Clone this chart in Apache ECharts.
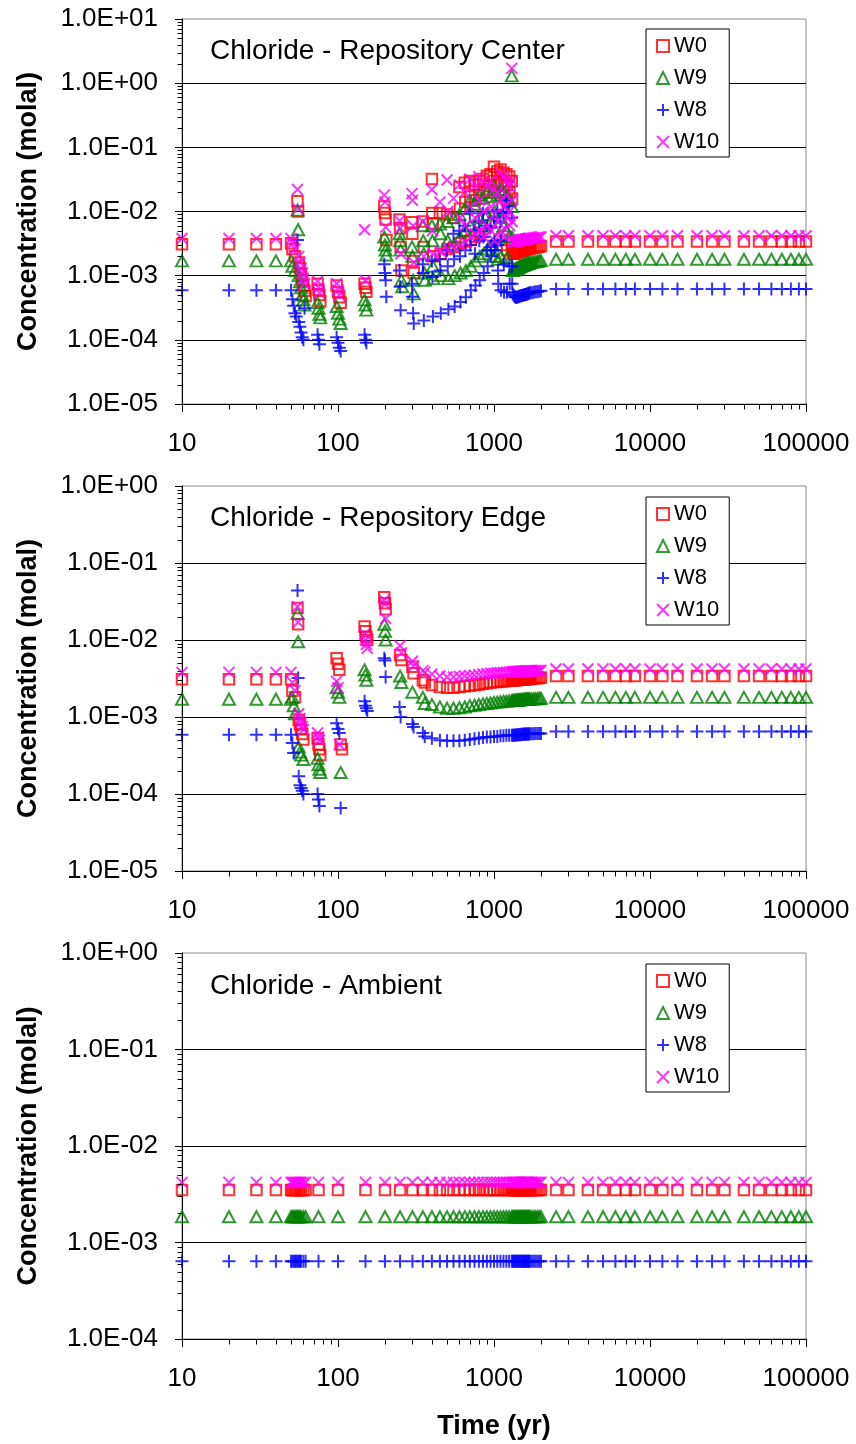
<!DOCTYPE html>
<html><head><meta charset="utf-8">
<script src="https://cdn.jsdelivr.net/npm/echarts@6/dist/echarts.min.js"></script>
<style>html,body{margin:0;padding:0;background:#fff}#chart{width:856px;height:1444px}</style>
</head><body><div id="chart"></div>
<script>
// ---------------- DATA ----------------
const seriesNames = ['W0', 'W9', 'W8', 'W10'];
const panelTitles = ['Chloride - Repository Center', 'Chloride - Repository Edge', 'Chloride - Ambient'];
const xTickValues = [10, 100, 1000, 10000, 100000];
const minorTickMultipliers = [2, 3, 4, 5, 6, 7, 8, 9];

const earlyTimes = [10, 20, 30, 40, 50];
const midTimes = [400,450,500,550,600,650,700,750,800,850,900,950,1000,1050,1100,1150,1200,1250,1300];
const rampTimes = [1320,1340,1360,1380,1400,1420,1440,1460,1480,1500,1520,1540,1560,1580,1600,1620,1640,1660,1680,1700,1750,1800,1850,1900,1950,2000];
const tailTimes = [2500,3000,4000,5000,6000,7000,8000,10000,12000,15000,20000,25000,30000,40000,50000,60000,70000,80000,90000,100000];
const ambientEarlyTimes = [10,20,30,40,50,51,52,53,54,55,56,57,58,60,62,75,100,150,200,250,300,350];

// ----- Repository Center -----
const centerW0Early = [3.1e-3,3.1e-3,3.1e-3,3.1e-3,3.2e-3];
const centerW9Early = [1.7e-3,1.7e-3,1.7e-3,1.7e-3,1.7e-3];
const centerW8Early = [5.9e-4,5.9e-4,5.9e-4,5.9e-4,5.9e-4];
const centerW10Early = [3.8e-3,3.8e-3,3.8e-3,3.8e-3,3.8e-3];

const centerW0Transient = [
 [51,2.6e-3],[53,2.0e-3],[55,1.45e-2],[55.5,1.0e-2],[56,1.6e-3],[57,1.3e-3],[58,1.05e-3],[59,8.5e-4],[60,7e-4],[61,5.8e-4],[62,4.8e-4],
 [74,7.5e-4],[75,6e-4],[76,5e-4],[77,4e-4],
 [98,7e-4],[100,5.5e-4],[102,4.6e-4],[104,3.8e-4],
 [148,7.5e-4],[150,6.5e-4],[152,5.6e-4],
 [198,1.2e-2],[200,9.5e-3],[202,7.5e-3],[204,3.6e-3],
 [248,7.5e-3],[250,5.5e-3],[252,2.8e-3],[255,1.2e-3],
 [298,6.8e-3],[300,4.5e-3],[303,1.7e-3],[306,1.1e-3],
 [350,7e-3],[355,2.8e-3],
 [400,3.2e-2],[402,9.5e-3],[405,6.5e-3],[408,2.0e-3],
 [450,9.5e-3],[455,2.2e-3],
 [500,9e-3],[505,2.6e-3],
 [550,8e-3],[555,2.8e-3],
 [600,2.4e-2],[605,1.1e-2],[610,3.2e-3],
 [650,2.8e-2],[655,1.4e-2],[660,3.4e-3],
 [700,3e-2],[705,1.7e-2],[710,3.6e-3],
 [750,2.6e-2],[755,1.5e-2],[760,4e-3],
 [800,3e-2],[805,1.8e-2],[810,4.5e-3],
 [850,3.2e-2],[855,2e-2],
 [900,3.6e-2],[905,2.2e-2],
 [950,3.8e-2],[955,2.5e-2],
 [1000,5e-2],[1005,3e-2],[1010,2e-2],
 [1050,4.2e-2],[1055,2.6e-2],
 [1100,4.5e-2],[1105,3e-2],[1110,1.8e-2],[1115,3e-3],
 [1150,4e-2],[1155,2.5e-2],
 [1200,3.8e-2],[1205,2.6e-2],[1210,1.5e-2],[1215,2.5e-3],
 [1250,3.5e-2],[1255,2e-2],
 [1300,3e-2],[1305,1.6e-2],[1308,2.8e-3]
];
const centerW9Transient = [
 [51,1.4e-3],[53,1.2e-3],[55,1.05e-2],[55.5,5.2e-3],[56,1.0e-3],[57,8e-4],[58,6.5e-4],[59,5e-4],[60,4.2e-4],[61,3.5e-4],
 [74,3.8e-4],[75,3.1e-4],[76,2.5e-4],[77,2.2e-4],
 [98,3.3e-4],[100,2.6e-4],[102,2.1e-4],[104,1.8e-4],
 [148,4.2e-4],[150,3.5e-4],[152,2.9e-4],
 [198,4e-3],[200,3e-3],[202,2.5e-3],[204,2.1e-3],
 [248,4.5e-3],[250,3.5e-3],[252,2.5e-3],[255,8.5e-4],[258,6.7e-4],
 [298,2.8e-3],[300,2e-3],[303,8.5e-4],[306,5.2e-4],
 [350,6e-3],[352,3.5e-3],[355,2.2e-3],[358,1.1e-3],[361,8.5e-4],
 [400,6e-3],[403,3.5e-3],[406,1.4e-3],[409,9e-4],
 [450,6.4e-3],[453,4.5e-3],[456,1e-3],
 [500,7e-3],[505,3.5e-3],[510,9e-4],
 [550,8e-3],[555,3e-3],[560,1e-3],
 [600,9e-3],[605,4e-3],[610,1.1e-3],
 [650,1.1e-2],[655,5e-3],[660,1.2e-3],
 [700,1.5e-2],[705,6e-3],[710,1.4e-3],
 [750,1.3e-2],[755,5e-3],[760,1.7e-3],
 [800,1.8e-2],[805,8e-3],[810,2e-3],
 [850,1.6e-2],[855,6e-3],[860,2.2e-3],
 [900,2e-2],[905,9e-3],[910,2.6e-3],
 [950,1.7e-2],[955,7e-3],[960,3e-3],
 [1000,2.4e-2],[1005,1e-2],[1010,2e-3],
 [1050,1.8e-2],[1055,4e-3],[1060,1.8e-3],
 [1100,2.2e-2],[1105,8e-3],[1110,2e-3],
 [1150,2e-2],[1155,6e-3],
 [1200,1.8e-2],[1205,5e-3],[1210,1.9e-3],
 [1250,1.5e-2],[1255,4e-3],
 [1300,1.3],[1302,1.2e-2],[1305,4e-3]
];
const centerW8Transient = [
 [51,4.3e-4],[52,3.4e-4],[53,2.6e-4],[54,2.3e-4],[55,3.6e-3],[56,1.9e-4],[57,1.6e-4],[58,1.3e-4],[59,1.1e-4],[60,1.0e-4],[61,3.1e-4],
 [74,1.2e-4],[75,1.0e-4],[76,8.5e-5],
 [98,1.1e-4],[100,9e-5],[102,7.5e-5],[104,6.7e-5],
 [148,1.2e-4],[150,1.0e-4],[152,9e-5],
 [198,1.5e-3],[200,1.1e-3],[202,8.5e-4],[204,4.7e-4],
 [248,1.2e-3],[250,6.7e-4],[252,2.9e-4],
 [298,7.5e-4],[300,4.7e-4],[303,2.6e-4],[306,1.8e-4],
 [350,1.5e-3],[352,1.1e-3],[355,2e-4],
 [400,1.7e-3],[403,9.5e-4],[406,2.3e-4],
 [450,1.8e-3],[453,1.2e-3],[456,2.6e-4],
 [500,2.5e-3],[505,1.4e-3],[510,3e-4],
 [550,4.5e-3],[555,1.8e-3],[560,3.3e-4],
 [600,5e-3],[605,2e-3],[610,3.9e-4],
 [650,6e-3],[655,2.5e-3],[660,4.6e-4],
 [700,9.4e-3],[705,3e-3],[710,5.9e-4],
 [750,5e-3],[755,2.2e-3],[760,7e-4],
 [800,7e-3],[805,3.5e-3],[810,8.5e-4],
 [850,9.4e-3],[855,4e-3],[860,1.1e-3],
 [900,6e-3],[905,2.5e-3],[910,1.4e-3],
 [950,5.6e-3],[955,2.8e-3],[960,2e-3],
 [1000,8e-3],[1005,3.5e-3],[1010,2.5e-3],
 [1050,1.05e-2],[1055,3e-3],[1060,1.2e-3],[1065,7.5e-4],
 [1100,7e-3],[1105,3.5e-3],[1110,5.9e-4],
 [1150,9.4e-3],[1155,1.5e-3],[1160,5.5e-4],
 [1200,1.5e-2],[1205,9.5e-3],[1210,5.5e-4],
 [1250,1.2e-2],[1255,1.4e-3],[1260,7.5e-4],
 [1300,8e-3],[1305,1.4e-3],[1308,7.5e-4]
];
const centerW10Transient = [
 [51,3.2e-3],[53,2.6e-3],[55,2.2e-2],[55.5,1.1e-2],[56,2.0e-3],[57,1.6e-3],[58,1.3e-3],[59,1.1e-3],[60,9e-4],[61,7.5e-4],
 [74,8.2e-4],[75,6.5e-4],[76,5.4e-4],
 [98,7.5e-4],[100,6e-4],[102,5e-4],
 [148,5.2e-3],[150,8.4e-4],
 [198,1.8e-2],[200,1.4e-2],[202,5.7e-3],
 [248,7.2e-3],[250,5.5e-3],[253,2.2e-3],
 [298,1.9e-2],[300,1.5e-2],[303,6e-3],[306,1.6e-3],
 [350,7e-3],[355,2e-3],
 [400,2.2e-2],[403,5e-3],[406,2.2e-3],
 [450,1.4e-2],[455,2.4e-3],
 [500,3.1e-2],[505,1e-2],[510,2.6e-3],
 [550,1.6e-2],[555,2.8e-3],
 [600,2.6e-2],[605,8e-3],[610,3e-3],
 [650,2e-2],[655,6e-3],[660,3.3e-3],
 [700,3.2e-2],[705,1.2e-2],[710,4e-3],
 [750,2.4e-2],[755,8e-3],[760,4.5e-3],
 [800,3.5e-2],[805,1.5e-2],[810,5e-3],
 [850,2.8e-2],[855,1e-2],[860,4e-3],
 [900,2.5e-2],[905,6e-3],
 [950,3e-2],[955,1.2e-2],[960,5e-3],
 [1000,2.2e-2],[1005,9e-3],[1010,3.5e-3],
 [1050,2e-2],[1055,7e-3],
 [1100,4e-2],[1105,1.5e-2],[1110,5e-3],
 [1150,3.5e-2],[1155,1.2e-2],[1160,4e-3],
 [1200,3e-2],[1205,1.8e-2],[1210,8e-3],
 [1250,2.5e-2],[1255,1e-2],[1260,6e-3],
 [1300,1.7],[1302,3e-2],[1305,1.5e-2],[1308,7e-3]
];
const centerW0Ramp = [2.2e-3,2.2e-3,2.25e-3,2.3e-3,2.3e-3,2.35e-3,2.4e-3,2.4e-3,2.45e-3,2.45e-3,2.5e-3,2.5e-3,2.55e-3,2.55e-3,2.6e-3,2.6e-3,2.6e-3,2.65e-3,2.65e-3,2.7e-3,2.7e-3,2.75e-3,2.8e-3,2.8e-3,2.85e-3,2.9e-3];
const centerW9Ramp = [1.2e-3,1.22e-3,1.25e-3,1.28e-3,1.3e-3,1.32e-3,1.35e-3,1.37e-3,1.4e-3,1.42e-3,1.44e-3,1.46e-3,1.48e-3,1.5e-3,1.52e-3,1.53e-3,1.55e-3,1.56e-3,1.58e-3,1.6e-3,1.62e-3,1.64e-3,1.66e-3,1.68e-3,1.7e-3,1.72e-3];
const centerW8Ramp = [5.2e-4,4.9e-4,4.7e-4,4.6e-4,4.6e-4,4.7e-4,4.7e-4,4.8e-4,4.8e-4,4.9e-4,4.9e-4,5.0e-4,5.0e-4,5.1e-4,5.1e-4,5.2e-4,5.2e-4,5.3e-4,5.3e-4,5.4e-4,5.4e-4,5.5e-4,5.6e-4,5.6e-4,5.7e-4,5.8e-4];
const centerW10Ramp = [3.3e-3,3.35e-3,3.4e-3,3.4e-3,3.45e-3,3.5e-3,3.5e-3,3.55e-3,3.6e-3,3.6e-3,3.6e-3,3.65e-3,3.65e-3,3.7e-3,3.7e-3,3.75e-3,3.75e-3,3.8e-3,3.8e-3,3.8e-3,3.85e-3,3.9e-3,3.9e-3,3.95e-3,4.0e-3,4.0e-3];
const centerW0Tail = [3.4e-3,3.4e-3,3.4e-3,3.4e-3,3.4e-3,3.4e-3,3.4e-3,3.4e-3,3.4e-3,3.4e-3,3.4e-3,3.4e-3,3.4e-3,3.4e-3,3.4e-3,3.4e-3,3.4e-3,3.4e-3,3.4e-3,3.4e-3];
const centerW9Tail = [1.8e-3,1.8e-3,1.8e-3,1.8e-3,1.8e-3,1.8e-3,1.8e-3,1.8e-3,1.8e-3,1.8e-3,1.8e-3,1.8e-3,1.8e-3,1.8e-3,1.8e-3,1.8e-3,1.8e-3,1.8e-3,1.8e-3,1.8e-3];
const centerW8Tail = [6.2e-4,6.2e-4,6.2e-4,6.2e-4,6.2e-4,6.2e-4,6.2e-4,6.2e-4,6.2e-4,6.2e-4,6.2e-4,6.2e-4,6.2e-4,6.2e-4,6.2e-4,6.2e-4,6.2e-4,6.2e-4,6.2e-4,6.2e-4];
const centerW10Tail = [4.2e-3,4.2e-3,4.2e-3,4.2e-3,4.2e-3,4.2e-3,4.2e-3,4.2e-3,4.2e-3,4.2e-3,4.2e-3,4.2e-3,4.2e-3,4.2e-3,4.2e-3,4.2e-3,4.2e-3,4.2e-3,4.2e-3,4.2e-3];

// ----- Repository Edge -----
const edgeW0Early = [3.1e-3,3.1e-3,3.1e-3,3.1e-3,3.1e-3];
const edgeW9Early = [1.7e-3,1.7e-3,1.7e-3,1.7e-3,1.7e-3];
const edgeW8Early = [5.9e-4,5.9e-4,5.9e-4,5.9e-4,5.9e-4];
const edgeW10Early = [3.8e-3,3.8e-3,3.8e-3,3.8e-3,3.8e-3];

const edgeW0Transient = [
 [51,2.2e-3],[53,1.8e-3],[55,2.6e-2],[55.5,1.6e-2],[56,9.2e-4],[57,8e-4],[58,7e-4],[59,6e-4],[60,5.1e-4],
 [74,5.3e-4],[75,4.4e-4],[76,3.8e-4],[77,3.2e-4],
 [98,5.8e-3],[100,4.9e-3],[102,4.1e-3],[104,4.4e-4],[106,3.8e-4],
 [148,1.5e-2],[150,1.3e-2],[152,1.1e-2],[154,1.0e-2],
 [198,3.6e-2],[200,3e-2],[202,2.5e-2],
 [250,6.4e-3],[255,5.5e-3],
 [300,4.5e-3],[305,3.7e-3],
 [350,3e-3],[360,2.8e-3]
];
const edgeW9Transient = [
 [51,1.8e-3],[52,1.4e-3],[53,1.1e-3],[55,2.2e-2],[55.5,9.5e-3],[56,4.1e-4],[57,3.5e-4],[58,3.2e-4],[60,2.8e-4],
 [74,2.9e-4],[75,2.4e-4],[76,2.1e-4],[77,1.9e-4],
 [98,2.4e-3],[100,2.1e-3],[102,1.8e-3],[104,1.9e-4],
 [148,4.1e-3],[150,3.5e-3],[152,3e-3],
 [198,1.6e-2],[200,1.3e-2],[202,1e-2],
 [250,3.4e-3],[255,2.8e-3],
 [300,2.1e-3],
 [350,1.8e-3],[360,1.5e-3]
];
const edgeW8Transient = [
 [51,4.6e-4],[52,3.4e-4],[55,4.4e-2],[55.5,3.2e-3],[56,1.7e-4],[57,1.3e-4],[58,1.2e-4],[59,1.1e-4],[60,1.0e-4],
 [74,1e-4],[75,8.5e-5],[76,7e-5],
 [98,8.3e-4],[100,7e-4],[102,6.2e-4],[104,6.6e-5],
 [148,1.6e-3],[150,1.4e-3],[152,1.3e-3],[154,1.2e-3],
 [198,5.8e-3],[200,5.4e-3],[202,3.3e-3],
 [248,1.35e-3],[252,1e-3],
 [300,8.1e-4],[305,7.4e-4],
 [350,6.2e-4],[360,5.6e-4]
];
const edgeW10Transient = [
 [51,2.8e-3],[53,2.2e-3],[55,2.7e-2],[55.5,1.7e-2],[56,1.1e-3],[57,9.5e-4],[58,8.5e-4],[59,7.5e-4],[60,6.8e-4],
 [74,6.2e-4],[75,5.5e-4],[76,5e-4],
 [98,2.9e-3],[100,2.4e-3],[102,4.4e-4],
 [148,1.2e-2],[150,1e-2],[152,8.8e-3],[154,7.8e-3],
 [198,3.3e-2],[200,2.9e-2],[202,1.9e-2],
 [250,8.4e-3],[255,6.8e-3],
 [300,5.3e-3],[305,4.6e-3],
 [350,4e-3],[360,3.8e-3]
];
const edgeW0Mid = [2.6e-3,2.45e-3,2.4e-3,2.4e-3,2.45e-3,2.5e-3,2.55e-3,2.6e-3,2.65e-3,2.7e-3,2.75e-3,2.8e-3,2.85e-3,2.85e-3,2.9e-3,2.9e-3,2.95e-3,2.95e-3,3.0e-3];
const edgeW9Mid = [1.45e-3,1.35e-3,1.3e-3,1.3e-3,1.32e-3,1.35e-3,1.4e-3,1.42e-3,1.45e-3,1.48e-3,1.5e-3,1.52e-3,1.55e-3,1.56e-3,1.58e-3,1.6e-3,1.6e-3,1.62e-3,1.63e-3];
const edgeW8Mid = [5.3e-4,5.0e-4,4.9e-4,4.9e-4,4.9e-4,5.0e-4,5.1e-4,5.2e-4,5.3e-4,5.4e-4,5.5e-4,5.5e-4,5.6e-4,5.6e-4,5.7e-4,5.7e-4,5.8e-4,5.8e-4,5.8e-4];
const edgeW10Mid = [3.6e-3,3.4e-3,3.3e-3,3.3e-3,3.35e-3,3.4e-3,3.45e-3,3.5e-3,3.55e-3,3.6e-3,3.65e-3,3.7e-3,3.7e-3,3.75e-3,3.75e-3,3.8e-3,3.8e-3,3.85e-3,3.85e-3];
const edgeW0Ramp = [3.0e-3,3.0e-3,3.0e-3,3.02e-3,3.02e-3,3.04e-3,3.04e-3,3.05e-3,3.06e-3,3.06e-3,3.08e-3,3.08e-3,3.1e-3,3.1e-3,3.1e-3,3.12e-3,3.12e-3,3.14e-3,3.14e-3,3.15e-3,3.16e-3,3.18e-3,3.2e-3,3.2e-3,3.22e-3,3.25e-3];
const edgeW9Ramp = [1.63e-3,1.64e-3,1.64e-3,1.65e-3,1.65e-3,1.66e-3,1.66e-3,1.67e-3,1.67e-3,1.68e-3,1.68e-3,1.68e-3,1.69e-3,1.69e-3,1.7e-3,1.7e-3,1.7e-3,1.71e-3,1.71e-3,1.71e-3,1.72e-3,1.72e-3,1.73e-3,1.73e-3,1.74e-3,1.75e-3];
const edgeW8Ramp = [5.8e-4,5.8e-4,5.85e-4,5.85e-4,5.85e-4,5.9e-4,5.9e-4,5.9e-4,5.9e-4,5.95e-4,5.95e-4,5.95e-4,5.95e-4,6.0e-4,6.0e-4,6.0e-4,6.0e-4,6.0e-4,6.0e-4,6.05e-4,6.05e-4,6.05e-4,6.1e-4,6.1e-4,6.1e-4,6.1e-4];
const edgeW10Ramp = [3.85e-3,3.86e-3,3.87e-3,3.88e-3,3.88e-3,3.89e-3,3.9e-3,3.9e-3,3.9e-3,3.91e-3,3.92e-3,3.92e-3,3.93e-3,3.94e-3,3.94e-3,3.95e-3,3.95e-3,3.96e-3,3.96e-3,3.97e-3,3.98e-3,3.99e-3,4.0e-3,4.0e-3,4.01e-3,4.02e-3];
const edgeW0Tail = [3.4e-3,3.4e-3,3.4e-3,3.4e-3,3.4e-3,3.4e-3,3.4e-3,3.4e-3,3.4e-3,3.4e-3,3.4e-3,3.4e-3,3.4e-3,3.4e-3,3.4e-3,3.4e-3,3.4e-3,3.4e-3,3.4e-3,3.4e-3];
const edgeW9Tail = [1.8e-3,1.8e-3,1.8e-3,1.8e-3,1.8e-3,1.8e-3,1.8e-3,1.8e-3,1.8e-3,1.8e-3,1.8e-3,1.8e-3,1.8e-3,1.8e-3,1.8e-3,1.8e-3,1.8e-3,1.8e-3,1.8e-3,1.8e-3];
const edgeW8Tail = [6.5e-4,6.5e-4,6.5e-4,6.5e-4,6.5e-4,6.5e-4,6.5e-4,6.5e-4,6.5e-4,6.5e-4,6.5e-4,6.5e-4,6.5e-4,6.5e-4,6.5e-4,6.5e-4,6.5e-4,6.5e-4,6.5e-4,6.5e-4];
const edgeW10Tail = [4.2e-3,4.2e-3,4.2e-3,4.2e-3,4.2e-3,4.2e-3,4.2e-3,4.2e-3,4.2e-3,4.2e-3,4.2e-3,4.2e-3,4.2e-3,4.2e-3,4.2e-3,4.2e-3,4.2e-3,4.2e-3,4.2e-3,4.2e-3];

// ----- Ambient (87 values: ambientEarlyTimes + midTimes + rampTimes + tailTimes) -----
const ambientW0 = [
 3.5e-3,3.5e-3,3.5e-3,3.5e-3,3.5e-3,3.5e-3,3.5e-3,3.5e-3,3.5e-3,3.5e-3,
 3.5e-3,3.5e-3,3.5e-3,3.5e-3,3.5e-3,3.5e-3,3.5e-3,3.5e-3,3.5e-3,3.5e-3,
 3.5e-3,3.5e-3,3.5e-3,3.5e-3,3.5e-3,3.5e-3,3.5e-3,3.5e-3,3.5e-3,3.5e-3,
 3.5e-3,3.5e-3,3.5e-3,3.5e-3,3.5e-3,3.5e-3,3.5e-3,3.5e-3,3.5e-3,3.5e-3,
 3.5e-3,3.5e-3,3.5e-3,3.5e-3,3.5e-3,3.5e-3,3.5e-3,3.5e-3,3.5e-3,3.5e-3,
 3.5e-3,3.5e-3,3.5e-3,3.5e-3,3.5e-3,3.5e-3,3.5e-3,3.5e-3,3.5e-3,3.5e-3,
 3.5e-3,3.5e-3,3.5e-3,3.5e-3,3.5e-3,3.5e-3,3.5e-3,3.5e-3,3.5e-3,3.5e-3,
 3.5e-3,3.5e-3,3.5e-3,3.5e-3,3.5e-3,3.5e-3,3.5e-3,3.5e-3,3.5e-3,3.5e-3,
 3.5e-3,3.5e-3,3.5e-3,3.5e-3,3.5e-3,3.5e-3,3.5e-3];
const ambientW9 = [
 1.85e-3,1.85e-3,1.85e-3,1.85e-3,1.85e-3,1.85e-3,1.85e-3,1.85e-3,1.85e-3,1.85e-3,
 1.85e-3,1.85e-3,1.85e-3,1.85e-3,1.85e-3,1.85e-3,1.85e-3,1.85e-3,1.85e-3,1.85e-3,
 1.85e-3,1.85e-3,1.85e-3,1.85e-3,1.85e-3,1.85e-3,1.85e-3,1.85e-3,1.85e-3,1.85e-3,
 1.85e-3,1.85e-3,1.85e-3,1.85e-3,1.85e-3,1.85e-3,1.85e-3,1.85e-3,1.85e-3,1.85e-3,
 1.85e-3,1.85e-3,1.85e-3,1.85e-3,1.85e-3,1.85e-3,1.85e-3,1.85e-3,1.85e-3,1.85e-3,
 1.85e-3,1.85e-3,1.85e-3,1.85e-3,1.85e-3,1.85e-3,1.85e-3,1.85e-3,1.85e-3,1.85e-3,
 1.85e-3,1.85e-3,1.85e-3,1.85e-3,1.85e-3,1.85e-3,1.85e-3,1.85e-3,1.85e-3,1.85e-3,
 1.85e-3,1.85e-3,1.85e-3,1.85e-3,1.85e-3,1.85e-3,1.85e-3,1.85e-3,1.85e-3,1.85e-3,
 1.85e-3,1.85e-3,1.85e-3,1.85e-3,1.85e-3,1.85e-3,1.85e-3];
const ambientW8 = [
 6.4e-4,6.4e-4,6.4e-4,6.4e-4,6.4e-4,6.4e-4,6.4e-4,6.4e-4,6.4e-4,6.4e-4,
 6.4e-4,6.4e-4,6.4e-4,6.4e-4,6.4e-4,6.4e-4,6.4e-4,6.4e-4,6.4e-4,6.4e-4,
 6.4e-4,6.4e-4,6.4e-4,6.4e-4,6.4e-4,6.4e-4,6.4e-4,6.4e-4,6.4e-4,6.4e-4,
 6.4e-4,6.4e-4,6.4e-4,6.4e-4,6.4e-4,6.4e-4,6.4e-4,6.4e-4,6.4e-4,6.4e-4,
 6.4e-4,6.4e-4,6.4e-4,6.4e-4,6.4e-4,6.4e-4,6.4e-4,6.4e-4,6.4e-4,6.4e-4,
 6.4e-4,6.4e-4,6.4e-4,6.4e-4,6.4e-4,6.4e-4,6.4e-4,6.4e-4,6.4e-4,6.4e-4,
 6.4e-4,6.4e-4,6.4e-4,6.4e-4,6.4e-4,6.4e-4,6.4e-4,6.4e-4,6.4e-4,6.4e-4,
 6.4e-4,6.4e-4,6.4e-4,6.4e-4,6.4e-4,6.4e-4,6.4e-4,6.4e-4,6.4e-4,6.4e-4,
 6.4e-4,6.4e-4,6.4e-4,6.4e-4,6.4e-4,6.4e-4,6.4e-4];
const ambientW10 = [
 4.2e-3,4.2e-3,4.2e-3,4.2e-3,4.2e-3,4.2e-3,4.2e-3,4.2e-3,4.2e-3,4.2e-3,
 4.2e-3,4.2e-3,4.2e-3,4.2e-3,4.2e-3,4.2e-3,4.2e-3,4.2e-3,4.2e-3,4.2e-3,
 4.2e-3,4.2e-3,4.2e-3,4.2e-3,4.2e-3,4.2e-3,4.2e-3,4.2e-3,4.2e-3,4.2e-3,
 4.2e-3,4.2e-3,4.2e-3,4.2e-3,4.2e-3,4.2e-3,4.2e-3,4.2e-3,4.2e-3,4.2e-3,
 4.2e-3,4.2e-3,4.2e-3,4.2e-3,4.2e-3,4.2e-3,4.2e-3,4.2e-3,4.2e-3,4.2e-3,
 4.2e-3,4.2e-3,4.2e-3,4.2e-3,4.2e-3,4.2e-3,4.2e-3,4.2e-3,4.2e-3,4.2e-3,
 4.2e-3,4.2e-3,4.2e-3,4.2e-3,4.2e-3,4.2e-3,4.2e-3,4.2e-3,4.2e-3,4.2e-3,
 4.2e-3,4.2e-3,4.2e-3,4.2e-3,4.2e-3,4.2e-3,4.2e-3,4.2e-3,4.2e-3,4.2e-3,
 4.2e-3,4.2e-3,4.2e-3,4.2e-3,4.2e-3,4.2e-3,4.2e-3];

// ---------------- BUILD ----------------
function zip(ts, vs) { return ts.map((t, i) => [t, vs[i]]).filter(p => p[1] != null); }
const ambientTimes = ambientEarlyTimes.concat(midTimes, rampTimes, tailTimes);

const panelData = [
  {
    W0: [].concat(zip(earlyTimes, centerW0Early), centerW0Transient, zip(rampTimes, centerW0Ramp), zip(tailTimes, centerW0Tail)),
    W9: [].concat(zip(earlyTimes, centerW9Early), centerW9Transient, zip(rampTimes, centerW9Ramp), zip(tailTimes, centerW9Tail)),
    W8: [].concat(zip(earlyTimes, centerW8Early), centerW8Transient, zip(rampTimes, centerW8Ramp), zip(tailTimes, centerW8Tail)),
    W10: [].concat(zip(earlyTimes, centerW10Early), centerW10Transient, zip(rampTimes, centerW10Ramp), zip(tailTimes, centerW10Tail))
  },
  {
    W0: [].concat(zip(earlyTimes, edgeW0Early), edgeW0Transient, zip(midTimes, edgeW0Mid), zip(rampTimes, edgeW0Ramp), zip(tailTimes, edgeW0Tail)),
    W9: [].concat(zip(earlyTimes, edgeW9Early), edgeW9Transient, zip(midTimes, edgeW9Mid), zip(rampTimes, edgeW9Ramp), zip(tailTimes, edgeW9Tail)),
    W8: [].concat(zip(earlyTimes, edgeW8Early), edgeW8Transient, zip(midTimes, edgeW8Mid), zip(rampTimes, edgeW8Ramp), zip(tailTimes, edgeW8Tail)),
    W10: [].concat(zip(earlyTimes, edgeW10Early), edgeW10Transient, zip(midTimes, edgeW10Mid), zip(rampTimes, edgeW10Ramp), zip(tailTimes, edgeW10Tail))
  },
  {
    W0: zip(ambientTimes, ambientW0),
    W9: zip(ambientTimes, ambientW9),
    W8: zip(ambientTimes, ambientW8),
    W10: zip(ambientTimes, ambientW10)
  }
];

const FONT = "'Liberation Sans', Arial, Helvetica, sans-serif";
const layout = [
  { top: 19, height: 385, yMin: 1e-5, yMax: 10, titleTop: 37, legendTop: 29 },
  { top: 486, height: 385, yMin: 1e-5, yMax: 1, titleTop: 504, legendTop: 497 },
  { top: 953, height: 386, yMin: 1e-4, yMax: 1, titleTop: 972, legendTop: 964 }
];
const styles = {
  W0: { symbol: 'rect', size: 10.5, color: '#FF0000' },
  W9: { symbol: 'triangle', size: [12, 11], color: '#008000' },
  W8: { symbol: 'path://M0,6L12,6M6,0L6,12', size: 13, color: '#0000FF' },
  W10: { symbol: 'path://M0,0L10,10M10,0L0,10', size: 11, color: '#FF00FF' }
};

function sciLabel(v) {
  const e = Math.round(Math.log10(v));
  return '1.0E' + (e < 0 ? '-' : '+') + String(Math.abs(e)).padStart(2, '0');
}

function minorTickSeries(gi, yMin, yMax) {
  const data = [];
  const e0 = Math.round(Math.log10(yMin)), e1 = Math.round(Math.log10(yMax));
  for (let e = e0; e < e1; e++) for (const m of minorTickMultipliers) data.push([xTickValues[0], m * Math.pow(10, e), 0]);
  for (let i = 0; i < xTickValues.length - 1; i++) for (const m of minorTickMultipliers) data.push([m * xTickValues[i], yMin, 1]);
  return {
    type: 'custom', xAxisIndex: gi, yAxisIndex: gi, silent: true, clip: false, z: 10, data,
    renderItem(params, api) {
      const p = api.coord([api.value(0), api.value(1)]);
      const k = api.value(2);
      const x = Math.round(p[0]) + 0.5, y = Math.round(p[1]) + 0.5;
      const shape = k === 0 ? { x1: x - 5, y1: y, x2: x, y2: y } : { x1: x, y1: y, x2: x, y2: y + 5 };
      return { type: 'line', shape, style: { stroke: '#000', lineWidth: 1 } };
    }
  };
}

const grid = [], xAxis = [], yAxis = [], series = [], legend = [], title = [];
layout.forEach((g, i) => {
  grid.push({ left: 182, right: 50, top: g.top, height: g.height, show: true, borderColor: '#888', borderWidth: 1, backgroundColor: '#fff' });
  xAxis.push({
    type: 'log', logBase: 10, gridIndex: i, min: 10, max: 100000,
    axisLine: { show: true, onZero: false, lineStyle: { color: '#000', width: 1 } },
    axisTick: { show: true, length: 8, lineStyle: { color: '#000' } },
    axisLabel: { fontSize: 26, color: '#000', fontFamily: FONT, margin: 27, formatter: v => String(Math.round(v)) },
    splitLine: { show: false },
    name: i === 2 ? 'Time (yr)' : '', nameLocation: 'middle', nameGap: 74,
    nameTextStyle: { fontSize: 27, fontWeight: 'bold', color: '#000', fontFamily: FONT }
  });
  yAxis.push({
    type: 'log', logBase: 10, gridIndex: i, min: g.yMin, max: g.yMax,
    axisLine: { show: true, onZero: false, lineStyle: { color: '#000', width: 1 } },
    axisTick: { show: true, length: 7, lineStyle: { color: '#000' } },
    axisLabel: { fontSize: 26, color: '#000', fontFamily: FONT, margin: 24, formatter: sciLabel },
    splitLine: { show: true, showMaxLine: false, lineStyle: { color: '#000', width: 1 } },
    name: 'Concentration (molal)', nameLocation: 'middle', nameGap: 140,
    nameTextStyle: { fontSize: 27, fontWeight: 'bold', color: '#000', fontFamily: FONT }
  });
  seriesNames.forEach(n => {
    const s = styles[n];
    series.push({
      type: 'scatter', name: n, xAxisIndex: i, yAxisIndex: i, data: panelData[i][n],
      symbol: s.symbol, symbolSize: s.size,
      itemStyle: { color: 'rgba(0,0,0,0)', borderColor: s.color, borderWidth: 2 },
      emphasis: { disabled: true }, z: 3
    });
  });
  series.push(minorTickSeries(i, g.yMin, g.yMax));
  legend.push({
    data: seriesNames, orient: 'vertical', left: 646, top: g.legendTop,
    padding: [6, 10, 4, 10], itemGap: 10, itemWidth: 12, itemHeight: 12,
    borderColor: '#000', borderWidth: 1, backgroundColor: '#fff', selectedMode: false,
    textStyle: { fontSize: 22, color: '#000', fontFamily: FONT }
  });
  title.push({
    text: panelTitles[i], left: 210, top: g.titleTop, padding: 0,
    textStyle: { fontSize: 28, fontWeight: 'normal', color: '#000', fontFamily: FONT }
  });
});

const chart = echarts.init(document.getElementById('chart'), null, { renderer: 'canvas' });
chart.setOption({ animation: false, backgroundColor: '#fff', title, legend, grid, xAxis, yAxis, series });
</script></body></html>
